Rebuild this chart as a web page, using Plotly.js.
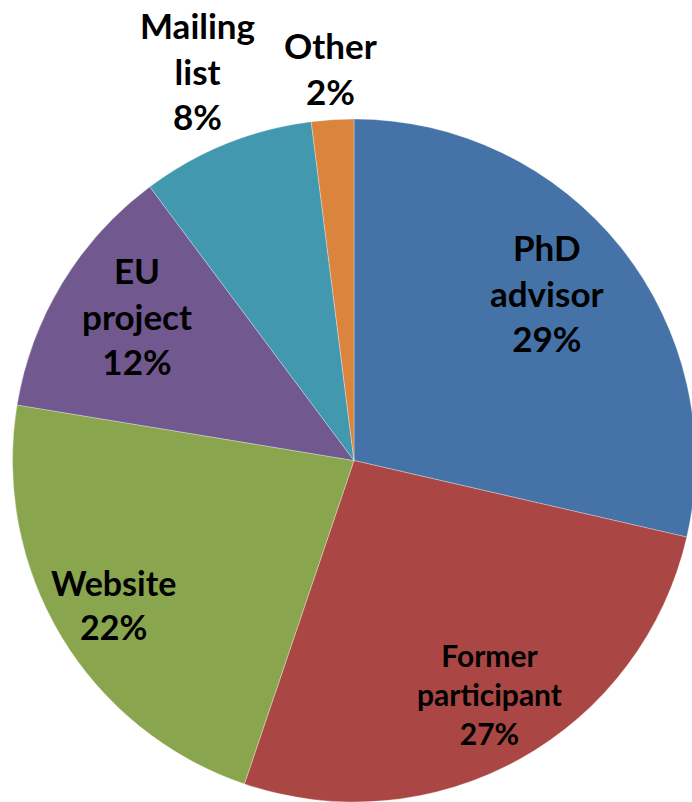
<!DOCTYPE html>
<html>
<head>
<meta charset="utf-8">
<script src="https://cdn.plot.ly/plotly-3.0.1.min.js"></script>
<style>
html,body{margin:0;padding:0;background:#fff;overflow:hidden;width:692px;height:802px;}
#chart{width:700px;height:802px;}
</style>
</head>
<body>
<div id="chart"></div>
<script>
var categories = ["PhD advisor", "Former participant", "Website", "EU project", "Mailing list", "Other"];
var labelLines = ["PhD<br>advisor", "Former<br>participant", "Website", "EU<br>project", "Mailing<br>list", "Other"];
// shares (%)
var shares = [28.6, 26.6, 22.4, 12.2, 8.2, 2.0];
var colors = ["#4572A7", "#AA4643", "#89A54E", "#71588F", "#4198AF", "#DB843D"];

// label placement (layout only), pixels: centre x, centre y
var labelPos = [[547, 292], [490, 694], [113, 604], [137, 315], [197, 70], [330, 68]];
var labelSize = [35, 30, 34, 35, 35, 35];

var W = 700, H = 802;

var total = shares.reduce(function (a, b) { return a + b; }, 0);

var trace = {
  type: "pie",
  labels: categories,
  values: shares,
  textinfo: "none",
  sort: false,
  direction: "clockwise",
  rotation: 0,
  marker: {colors: colors, line: {color: "rgba(255,255,255,0.5)", width: 0.6}},
  domain: {x: [12/W, 696/W], y: [0, (H - 119)/H]},
  automargin: false,
  showlegend: false,
  hoverinfo: "label+percent"
};

var annotations = categories.map(function (c, i) {
  return {
    xref: "paper", yref: "paper",
    x: labelPos[i][0] / W, y: 1 - labelPos[i][1] / H,
    xanchor: "center", yanchor: "middle",
    text: labelLines[i] + "<br>" + Math.round(shares[i] / total * 100) + "%",
    showarrow: false,
    align: "center",
    font: {family: "Lato, 'Open Sans', sans-serif", size: labelSize[i], color: "#000", weight: "bold"}
  };
});

Plotly.newPlot("chart", [trace], {
  width: W, height: H,
  margin: {l: 0, r: 0, t: 0, b: 0},
  paper_bgcolor: "#fff",
  showlegend: false,
  annotations: annotations
}, {displayModeBar: false, staticPlot: true});
</script>
</body>
</html>
